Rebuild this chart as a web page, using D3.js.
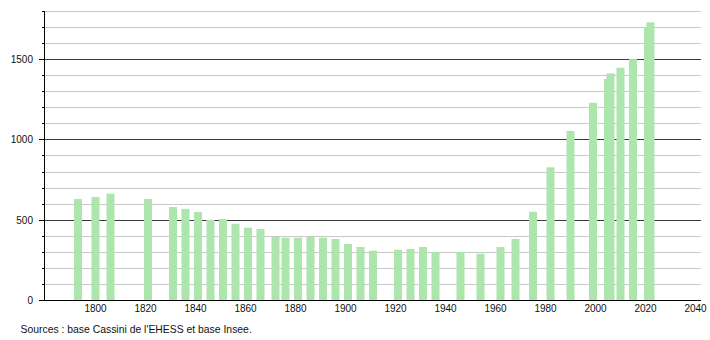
<!DOCTYPE html>
<html><head><meta charset="utf-8">
<script src="https://cdn.jsdelivr.net/npm/d3@7"></script>
<style>
html,body{margin:0;padding:0;background:#fff;}
svg{display:block;font-family:"Liberation Sans",Arial,sans-serif;}
</style></head>
<body><svg id="c" width="710" height="340"></svg>
<script>
const years = [1793,1800,1806,1821,1831,1836,1841,1846,1851,1856,1861,1866,1872,1876,1881,1886,1891,1896,1901,1906,1911,1921,1926,1931,1936,1946,1954,1962,1968,1975,1982,1990,1999,2005,2006,2010,2015,2021,2022];
const population = [629,641,662,629,579,567,548,498,504,475,450,442,394,388,388,394,388,380,349,330,307,313,318,330,299,299,288,330,380,549,826,1052,1228,1376,1411,1446,1500,1698,1729];
const xTicks = [1800,1820,1840,1860,1880,1900,1920,1940,1960,1980,2000,2020,2040];
const yMajor = [0,500,1000,1500];
const yMinor = d3.range(100,1801,100).filter(v=>v%500!==0);
const sourceText = "Sources : base Cassini de l'EHESS et base Insee.";

const svg = d3.select("#c");
const x = d3.scaleLinear().domain([1800,2040]).range([95.5,695.5]);
const y = d3.scaleLinear().domain([0,1800]).range([300,10.9]);
const left = 44, right = 701;
const py = v => Math.round(y(v)) + 0.5;

// minor grid
svg.append("g").selectAll("line").data(yMinor).join("line")
  .attr("x1",left).attr("x2",right).attr("y1",py).attr("y2",py)
  .attr("stroke","#c8c8c8").attr("stroke-width",1);
// major grid
svg.append("g").selectAll("line").data(yMajor.filter(v=>v>0)).join("line")
  .attr("x1",left).attr("x2",right).attr("y1",py).attr("y2",py)
  .attr("stroke","#3a3a3a").attr("stroke-width",1);

// bars
svg.append("g").selectAll("rect").data(years).join("rect")
  .attr("x",(d)=>x(d)-4).attr("width",8)
  .attr("y",(d,i)=>y(population[i])).attr("height",(d,i)=>300-y(population[i]))
  .attr("fill","#ade6ad");

// y axis
const yAxis = svg.append("g");
yAxis.append("line").attr("x1",left+0.5).attr("x2",left+0.5).attr("y1",py(1800)-0.5).attr("y2",300.5)
  .attr("stroke","#000");
yAxis.selectAll(".mn").data(yMinor).join("line").attr("class","mn")
  .attr("x1",left-2).attr("x2",left).attr("y1",py).attr("y2",py).attr("stroke","#000");
yAxis.selectAll(".mj").data(yMajor).join("line").attr("class","mj")
  .attr("x1",left-5).attr("x2",left).attr("y1",py).attr("y2",py).attr("stroke","#000");
yAxis.selectAll("text").data(yMajor).join("text")
  .attr("x",33).attr("y",d=>y(d)+4).attr("text-anchor","end")
  .attr("font-size",10).attr("fill","#111").text(d=>d);

// x axis
svg.append("line").attr("x1",left-5).attr("x2",right).attr("y1",300.5).attr("y2",300.5).attr("stroke","#000");
svg.append("g").selectAll("text").data(xTicks).join("text")
  .attr("x",d=>x(d)).attr("y",312).attr("text-anchor","middle")
  .attr("font-size",10).attr("fill","#111").text(d=>d);

svg.append("text").attr("x",20.5).attr("y",333).attr("font-size",10.4).attr("fill","#111").text(sourceText);
</script></body></html>
